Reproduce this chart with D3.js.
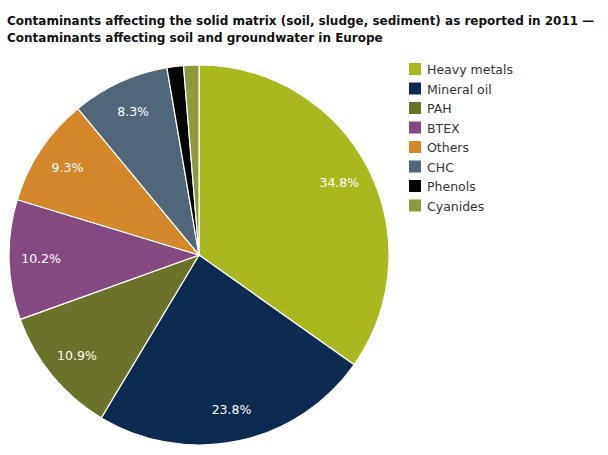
<!DOCTYPE html>
<html>
<head>
<meta charset="utf-8">
<script src="https://cdn.jsdelivr.net/npm/d3@7"></script>
<style>
  body { margin: 0; background: #fff; }
  text { font-family: "DejaVu Sans", Verdana, sans-serif; }
</style>
</head>
<body>
<div id="chart"></div>
<script>
// chart data
const categories = ["Heavy metals", "Mineral oil", "PAH", "BTEX", "Others", "CHC", "Phenols", "Cyanides"];
const shares = [34.8, 23.8, 10.9, 10.2, 9.3, 8.3, 1.4, 1.3];
const labels = ["34.8%", "23.8%", "10.9%", "10.2%", "9.3%", "8.3%", "", ""];
const colours = ["#a9b81f", "#0e2a50", "#6c7229", "#844a7f", "#d5872b", "#526679", "#050505", "#8c9a3d"];
const titleLines = [
    "Contaminants affecting the solid matrix (soil, sludge, sediment) as reported in 2011 \u2014",
    "Contaminants affecting soil and groundwater in Europe"
];

const width = 608, height = 455;
const svg = d3.select("#chart").append("svg")
    .attr("width", width)
    .attr("height", height);

// title
svg.selectAll("text.title")
    .data(titleLines)
    .enter()
    .append("text")
    .attr("class", "title")
    .attr("x", 7)
    .attr("y", (d, i) => 25 + i * 17)
    .attr("font-size", 12)
    .attr("font-weight", "bold")
    .attr("fill", "#111")
    .text(d => d);

const data = categories.map((c, i) => ({ name: c, value: shares[i], label: labels[i] }));
const color = d3.scaleOrdinal().domain(categories).range(colours);

const radius = 190;
const pie = d3.pie().value(d => d.value).sort(null);
const arc = d3.arc().innerRadius(0).outerRadius(radius);
const labelArc = d3.arc().innerRadius(158).outerRadius(158);

const g = svg.append("g").attr("transform", "translate(199,255)");

g.selectAll("path")
    .data(pie(data))
    .enter()
    .append("path")
    .attr("d", arc)
    .attr("fill", d => color(d.data.name))
    .attr("stroke", "#fff")
    .attr("stroke-width", 1.2);

g.selectAll("text.pct")
    .data(pie(data))
    .enter()
    .append("text")
    .attr("class", "pct")
    .attr("transform", d => `translate(${labelArc.centroid(d)})`)
    .attr("text-anchor", "middle")
    .attr("dy", "0.35em")
    .attr("font-size", 12.5)
    .attr("fill", "#fff")
    .text(d => d.data.label);

// legend
const legend = svg.selectAll(".legend")
    .data(categories)
    .enter()
    .append("g")
    .attr("class", "legend")
    .attr("transform", (d, i) => `translate(409,${63 + i * 19.5})`);

legend.append("rect")
    .attr("width", 12)
    .attr("height", 12)
    .attr("fill", d => color(d));

legend.append("text")
    .attr("x", 18)
    .attr("y", 11)
    .attr("font-size", 12.5)
    .attr("fill", "#333")
    .text(d => d);
</script>
</body>
</html>
